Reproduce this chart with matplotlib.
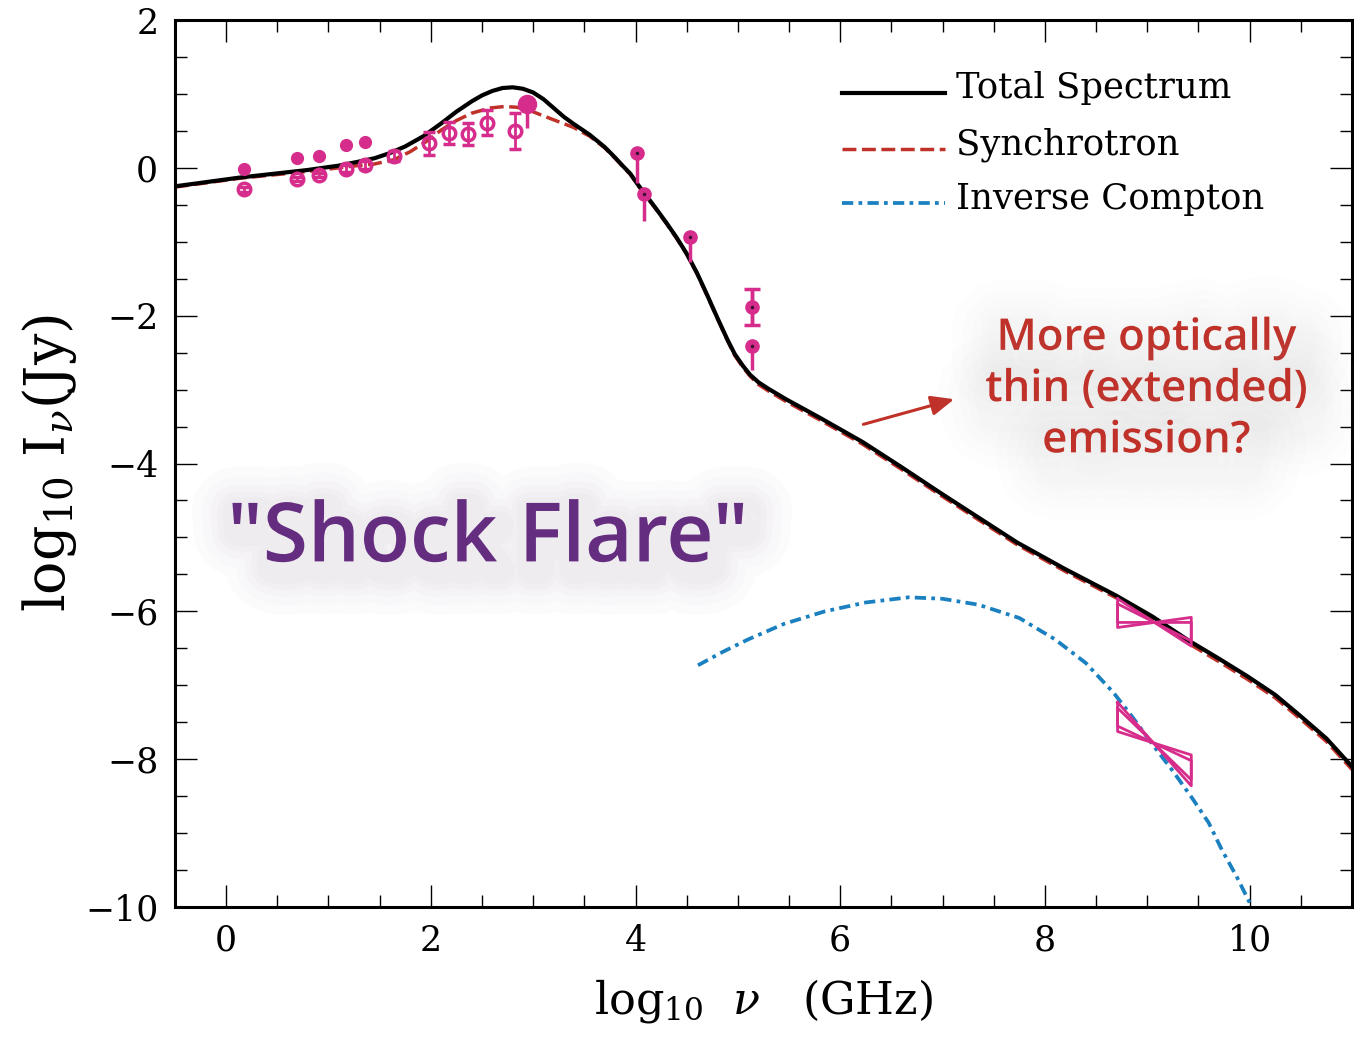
import matplotlib
matplotlib.use("Agg")
import matplotlib.pyplot as plt
import matplotlib.patheffects as pe
from matplotlib.ticker import MultipleLocator

# model curves, log10 nu (GHz) vs log10 I_nu (Jy)
total_x = [-0.5, 0.14, 0.79, 1.10, 1.28, 1.45, 1.60, 1.75, 1.93, 2.10, 2.25, 2.40,
           2.50, 2.60, 2.70, 2.80, 2.90, 3.00, 3.10, 3.20, 3.30, 3.40, 3.55, 3.70,
           3.80, 3.88, 3.95, 4.02, 4.08, 4.20, 4.30, 4.40, 4.50, 4.60, 4.70, 4.80,
           4.90, 4.97, 5.05, 5.12, 5.20, 5.30, 5.47, 5.80, 6.22, 6.60, 6.97, 7.35,
           7.73, 8.20, 8.70, 9.05, 9.41, 9.70, 9.98, 10.25, 10.50, 10.75, 11.0]
total_y = [-0.25, -0.13, -0.03, 0.03, 0.08, 0.13, 0.20, 0.29, 0.43, 0.60, 0.76, 0.90,
           0.98, 1.04, 1.08, 1.09, 1.07, 1.02, 0.93, 0.81, 0.69, 0.59, 0.45, 0.28,
           0.14, 0.02, -0.08, -0.22, -0.33, -0.55, -0.74, -0.94, -1.16, -1.42, -1.72,
           -2.03, -2.33, -2.52, -2.68, -2.80, -2.90, -2.99, -3.13, -3.38, -3.71, -4.05,
           -4.39, -4.73, -5.07, -5.43, -5.79, -6.07, -6.40, -6.64, -6.88, -7.13, -7.42,
           -7.72, -8.10]

sync_x = [-0.5, 0.14, 0.79, 1.10, 1.28, 1.44, 1.64, 1.80, 1.96, 2.10, 2.25, 2.40,
          2.58, 2.72, 2.84, 2.96, 3.07, 3.20, 3.39, 3.55, 3.70, 3.80, 3.88, 3.95,
          4.02, 4.08, 4.20, 4.30, 4.40, 4.50, 4.60, 4.70, 4.80, 4.90, 4.97, 5.05,
          5.12, 5.20, 5.30, 5.47, 5.80, 6.22, 6.60, 6.97, 7.35, 7.73, 8.20, 8.70,
          9.05, 9.41, 9.70, 9.98, 10.25, 10.50, 10.75, 11.0]
sync_y = [-0.26, -0.14, -0.05, 0.00, 0.03, 0.05, 0.11, 0.22, 0.36, 0.51, 0.64, 0.74,
          0.81, 0.83, 0.82, 0.78, 0.72, 0.65, 0.55, 0.43, 0.27, 0.13, 0.01, -0.09,
          -0.23, -0.34, -0.56, -0.75, -0.95, -1.17, -1.43, -1.73, -2.04, -2.34, -2.54,
          -2.70, -2.82, -2.93, -3.02, -3.16, -3.41, -3.74, -4.08, -4.42, -4.76, -5.10,
          -5.46, -5.82, -6.10, -6.44, -6.68, -6.92, -7.17, -7.46, -7.76, -8.14]

ic_x = [4.61, 4.85, 5.10, 5.45, 5.85, 6.25, 6.67, 7.00, 7.35, 7.75, 8.10, 8.40,
        8.67, 8.85, 9.04, 9.25, 9.45, 9.60, 9.73, 9.87, 10.0]
ic_y = [-6.73, -6.55, -6.38, -6.17, -6.00, -5.88, -5.81, -5.83, -5.91, -6.09, -6.38,
        -6.70, -7.10, -7.42, -7.78, -8.16, -8.55, -8.86, -9.23, -9.58, -9.94]

# radio / mm points
fill_x = [0.17, 0.69, 0.91, 1.17, 1.36]
fill_y = [-0.02, 0.13, 0.16, 0.31, 0.35]

open_x = [0.17, 0.69, 0.91, 1.17, 1.36, 1.64, 1.98, 2.18, 2.36, 2.55, 2.82]
open_y = [-0.29, -0.15, -0.10, -0.01, 0.04, 0.16, 0.33, 0.47, 0.46, 0.61, 0.50]
open_err = [0.03, 0.03, 0.03, 0.05, 0.05, 0.07, 0.15, 0.15, 0.15, 0.17, 0.24]

big_x = [2.94]
big_y = [0.86]
big_lo = [0.32]

# IR / optical points
hf_x = [4.01, 4.08, 4.53, 5.14, 5.14]
hf_y = [0.20, -0.35, -0.93, -1.88, -2.41]
hf_lo = [0.40, 0.37, 0.34, 0.24, 0.33]
hf_hi = [0.0, 0.0, 0.0, 0.24, 0.0]

# X-ray bowties: x range, pivot, slope pairs (outer, inner)
bow_x0 = [8.71, 8.71]
bow_x1 = [9.43, 9.43]
bow_px = [9.07, 9.06]
bow_py = [-6.15, -7.78]
bow_slopes = [[(-0.89, 0.19), (-0.70, 0.0)],
              [(-1.57, -0.44), (-1.35, -0.65)]]

legend_labels = ["Total Spectrum", "Synchrotron", "Inverse Compton"]
legend_y = [1.01, 0.25, -0.48]

PINK = "#d62d8c"
RED = "#bf3129"
BLUE = "#1a80c0"
SYNC_DASH = (4.0, 1.6)
IC_DASH = (3.0, 1.4, 1.0, 1.4)

plt.rcParams["mathtext.fontset"] = "dejavuserif"

fig = plt.figure(figsize=(13.54, 10.38), dpi=100)
ax = fig.add_axes([0.1292, 0.1262, 0.8693, 0.8545])

ax.plot(sync_x, sync_y, color=RED, lw=2.5, dashes=SYNC_DASH, zorder=2)
ax.plot(total_x, total_y, color="black", lw=3.0, zorder=3)
ax.plot(ic_x, ic_y, color=BLUE, lw=2.7, dashes=IC_DASH, zorder=2)

ax.errorbar(fill_x, fill_y, yerr=0.05, fmt="o", color=PINK, ms=8.5, lw=2, zorder=4)
ax.errorbar(open_x, open_y, yerr=open_err, fmt="o", color=PINK, mfc="none",
            mew=2.5, ms=9, lw=2, capsize=4.5, capthick=2, zorder=4)
ax.errorbar(big_x, big_y, yerr=[big_lo, [0.0]], fmt="o", color=PINK, ms=13,
            lw=2.5, zorder=4)
ax.errorbar(hf_x, hf_y, yerr=[hf_lo, hf_hi], fmt="o", color=PINK, ms=9.5, lw=2.5,
            capsize=0, zorder=4)
ax.errorbar(hf_x[3:4], hf_y[3:4], yerr=0.24, fmt="none", ecolor=PINK, lw=2.5,
            capsize=6, capthick=2.5, zorder=4)
ax.plot(hf_x, hf_y, ".", color="#3a1030", ms=3, zorder=5)

for i in range(len(bow_px)):
    x0, x1, px, py = bow_x0[i], bow_x1[i], bow_px[i], bow_py[i]
    for s_a, s_b in bow_slopes[i]:
        ya0 = py + s_a * (x0 - px)
        ya1 = py + s_a * (x1 - px)
        yb0 = py + s_b * (x0 - px)
        yb1 = py + s_b * (x1 - px)
        ax.plot([x0, x1, x1, x0, x0], [ya0, ya1, yb1, yb0, ya0],
                color=PINK, lw=2.0, zorder=5)

# legend drawn by hand inside the axes
leg_styles = [dict(color="black", lw=3.0),
              dict(color=RED, lw=2.5, dashes=SYNC_DASH),
              dict(color=BLUE, lw=2.7, dashes=IC_DASH)]
for lab, ly, st in zip(legend_labels, legend_y, leg_styles):
    ax.plot([6.02, 7.02], [ly, ly], **st)
    ax.text(7.13, ly - 0.07, lab, fontsize=25.5, family="DejaVu Serif",
            va="baseline", ha="left")


def soft_glow(color, widths, alpha, offset):
    # stacked translucent outlines give a soft halo behind the text
    effects = [pe.PathPatchEffect(offset=offset, facecolor="none", edgecolor=color,
                                  linewidth=w, alpha=alpha, joinstyle="round")
               for w in widths]
    return effects + [pe.Normal()]


ax.text(2.56, -5.04, '"Shock Flare"', fontsize=59, color="#652d80",
        family="Open Sans", weight="semibold", ha="center", va="center",
        path_effects=soft_glow("#a89cb4", [64, 50, 38, 28, 20], 0.035, (3, -6)),
        zorder=6)

ax.text(8.99, -3.0, "More optically\nthin (extended)\nemission?", fontsize=31.5,
        color=RED, family="Open Sans", weight="semibold", ha="center",
        va="center", linespacing=1.25,
        path_effects=soft_glow("#b4acac", [76, 60, 46, 34, 24], 0.022, (3, -10)),
        zorder=6)
ax.annotate("", xy=(7.14, -3.12), xytext=(6.20, -3.48),
            arrowprops=dict(arrowstyle="-|>,head_length=1.4,head_width=0.6",
                            color=RED, lw=2.2))

ax.set_xlim(-0.5, 11)
ax.set_ylim(-10, 2)
ax.xaxis.set_major_locator(MultipleLocator(2))
ax.xaxis.set_minor_locator(MultipleLocator(0.5))
ax.yaxis.set_major_locator(MultipleLocator(2))
ax.yaxis.set_minor_locator(MultipleLocator(0.5))
ax.tick_params(which="both", direction="in", top=True, right=True, width=1.0,
               labelsize=25, pad=12)
ax.tick_params(which="major", length=16)
ax.tick_params(which="minor", length=8.5)
for lab in ax.get_xticklabels() + ax.get_yticklabels():
    lab.set_family("DejaVu Serif")
for sp in ax.spines.values():
    sp.set_linewidth(2.2)

ax.set_xlabel(r"$\mathrm{log}_{10}\ \ \nu\ \ \ (\mathrm{GHz})$", fontsize=32, labelpad=14)
ax.set_ylabel(r"$\mathrm{log}_{10}\ \mathrm{I}_{\nu}(\mathrm{Jy})$", fontsize=40, labelpad=4)

fig.savefig("out.png", dpi=100)
